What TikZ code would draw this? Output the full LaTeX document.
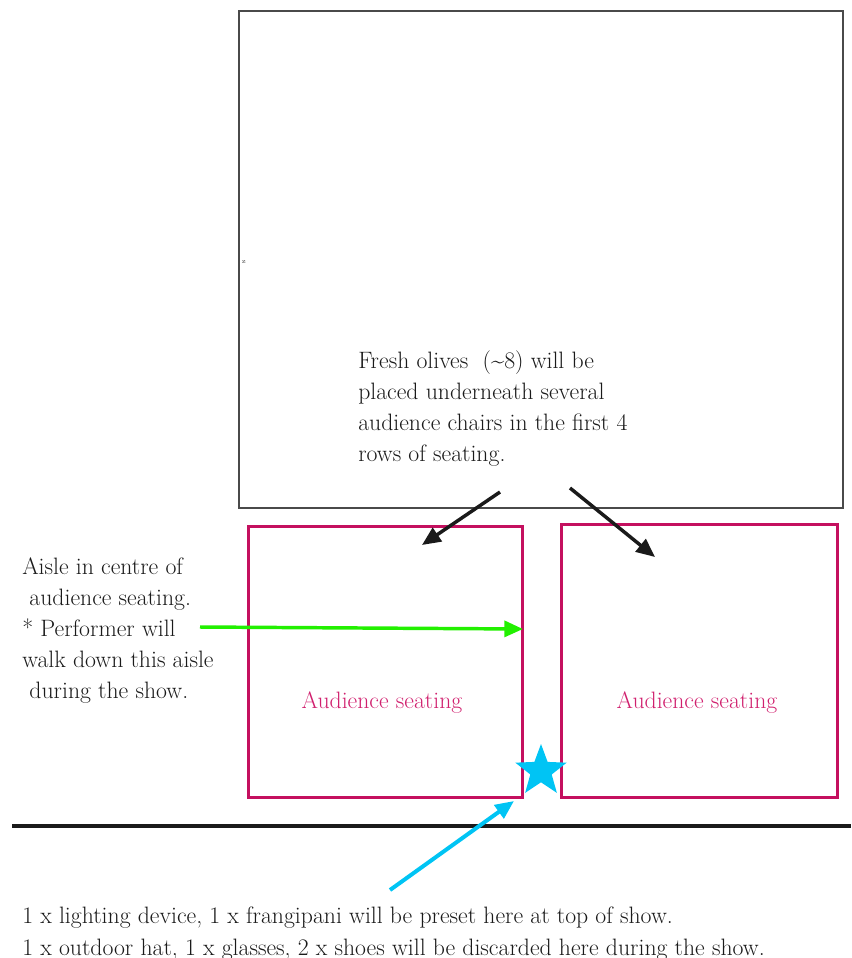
\documentclass[tikz,border=0pt]{standalone}
\usepackage{tikz}
\usepackage{xcolor}
\usetikzlibrary{arrows.meta,positioning,shapes.geometric}
\definecolor{stagegray}{HTML}{4A4A4A}
\definecolor{seatred}{HTML}{C4105F}
\definecolor{seattext}{HTML}{D0206E}
\definecolor{aislegreen}{HTML}{22F000}
\definecolor{starblue}{HTML}{00C4F4}
\definecolor{ink}{HTML}{1A1A1A}
\tikzset{
  notetext/.style={align=left,anchor=north west,inner sep=0pt,text=ink,
                   font=\fontsize{17.8}{23.4}\selectfont},
  seatbox/.style={draw=seatred,line width=2.4pt,anchor=north west},
  seatlabel/.style={text=seattext,font=\fontsize{17.8}{20}\selectfont},
  bigarr/.style={-{Triangle[length=14pt,width=12pt]},line width=2.6pt}
}
\begin{document}
\begin{tikzpicture}[x=0.75pt,y=-0.75pt]
  \useasboundingbox (0,0) rectangle (851,958);
  % stage area
  \node[draw=stagegray,line width=1.3pt,anchor=north west,
        minimum width=604*0.75pt,minimum height=497*0.75pt] (stage) at (238,10) {};
  \node[font=\fontsize{5}{5}\selectfont,text=stagegray,inner sep=0pt] (zmark) at (244,262) {z};
  % seating blocks
  \node[seatbox,minimum width=274*0.75pt,minimum height=271*0.75pt] (seatL) at (247,525) {};
  \node[seatbox,minimum width=276*0.75pt,minimum height=273*0.75pt] (seatR) at (560,523) {};
  \node[seatlabel] (seatLlab) at (382,703) {Audience seating};
  \node[seatlabel] (seatRlab) at (697,703) {Audience seating};
  % front edge
  \coordinate (floorL) at (12,826);
  \coordinate (floorR) at (851,826);
  \draw[ink,line width=2.4pt] (floorL) -- (floorR);
  % preset spot
  \node[star,star points=5,star point ratio=2.4,fill=starblue,inner sep=0pt,
        minimum size=54*0.75pt] (spot) at (541,771) {};
  % notes
  \node[notetext] (olivesNote) at (358,350) {Fresh olives\ \ (\textasciitilde8) will be\\
    placed underneath several\\audience chairs in the first 4\\rows of seating.};
  \node[notetext] (aisleNote) at (22,557) {Aisle in centre of\\
    \ audience seating.\\* Performer will\\walk down this aisle\\\ during the show.};
  \node[notetext] (presetNote) at (22,907) {1 x lighting device, 1 x frangipani will be preset here at top of show.\\
    1 x outdoor hat, 1 x glasses, 2 x shoes will be discarded here during the show.};
  % connectors
  \coordinate (olivesA) at (500,492);
  \coordinate (olivesB) at (570,488);
  \coordinate (aisleA) at (200,627);
  \coordinate (aisleTip) at (523,629);
  \coordinate (presetA) at (390,890);
  \coordinate (presetTip) at (514,801);
  \draw[bigarr,ink] (olivesA) -- (422,545);
  \draw[bigarr,ink] (olivesB) -- (655,557);
  \draw[bigarr,aislegreen,line width=2.6pt] (aisleA) -- (aisleTip);
  \draw[bigarr,starblue,line width=3pt] (presetA) -- (presetTip);
\end{tikzpicture}
\end{document}
